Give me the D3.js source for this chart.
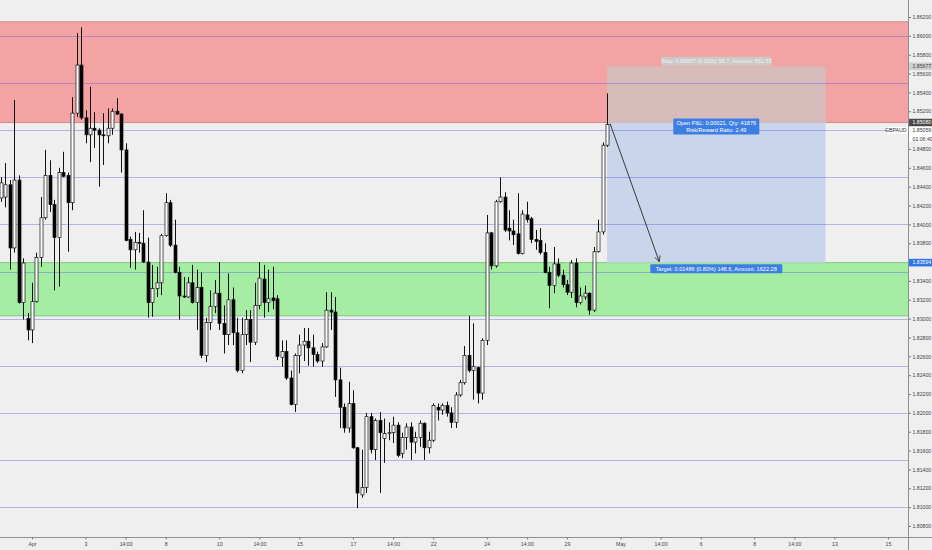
<!DOCTYPE html>
<html><head><meta charset="utf-8">
<script src="https://cdn.jsdelivr.net/npm/d3@7"></script>
<style>html,body{margin:0;padding:0;background:#efefef;} svg{display:block;font-family:"Liberation Sans",Arial,sans-serif;}</style>
</head><body><svg id="c" width="932" height="550"></svg>
<script>
// ---- data (GBPAUD, 4h bars) ----
const opens = [1.8428,1.8429,1.8442,1.8375,1.8447,1.8317,1.8300,1.8288,1.8318,1.8365,1.8407,1.8452,1.8421,1.8386,1.8455,1.8452,1.8423,1.8518,1.8569,1.8513,1.8495,1.8502,1.8500,1.8495,1.8494,1.8502,1.8520,1.8517,1.8479,1.8384,1.8373,1.8381,1.8380,1.8360,1.8317,1.8332,1.8338,1.8388,1.8423,1.8378,1.8349,1.8324,1.8323,1.8338,1.8317,1.8333,1.8261,1.8296,1.8313,1.8327,1.8295,1.8283,1.8320,1.8285,1.8245,1.8283,1.8299,1.8275,1.8314,1.8342,1.8317,1.8322,1.8321,1.8259,1.8265,1.8237,1.8209,1.8261,1.8272,1.8276,1.8269,1.8262,1.8255,1.8270,1.8309,1.8307,1.8235,1.8206,1.8184,1.8210,1.8163,1.8113,1.8121,1.8196,1.8161,1.8192,1.8173,1.8178,1.8179,1.8187,1.8157,1.8174,1.8185,1.8169,1.8174,1.8189,1.8163,1.8171,1.8206,1.8203,1.8208,1.8200,1.8190,1.8219,1.8232,1.8261,1.8245,1.8248,1.8221,1.8277,1.8391,1.8356,1.8424,1.8429,1.8396,1.8393,1.8390,1.8369,1.8410,1.8406,1.8384,1.8383,1.8370,1.8349,1.8335,1.8358,1.8346,1.8336,1.8328,1.8359,1.8317,1.8323,1.8327,1.8309,1.8371,1.8392,1.8484];
const highs = [1.8450,1.8465,1.8447,1.8532,1.8452,1.8364,1.8306,1.8338,1.8370,1.8429,1.8479,1.8468,1.8426,1.8460,1.8477,1.8455,1.8535,1.8603,1.8609,1.8521,1.8546,1.8519,1.8502,1.8518,1.8523,1.8523,1.8534,1.8518,1.8486,1.8387,1.8392,1.8391,1.8415,1.8386,1.8357,1.8355,1.8390,1.8433,1.8426,1.8405,1.8355,1.8344,1.8344,1.8357,1.8352,1.8349,1.8301,1.8330,1.8341,1.8360,1.8314,1.8348,1.8333,1.8301,1.8301,1.8309,1.8309,1.8338,1.8360,1.8357,1.8352,1.8355,1.8325,1.8277,1.8277,1.8245,1.8263,1.8283,1.8290,1.8290,1.8283,1.8265,1.8274,1.8328,1.8328,1.8323,1.8248,1.8210,1.8233,1.8224,1.8164,1.8161,1.8200,1.8200,1.8194,1.8201,1.8194,1.8190,1.8196,1.8190,1.8179,1.8189,1.8190,1.8180,1.8192,1.8190,1.8180,1.8210,1.8210,1.8210,1.8212,1.8206,1.8222,1.8235,1.8271,1.8303,1.8295,1.8249,1.8279,1.8410,1.8392,1.8426,1.8450,1.8434,1.8415,1.8405,1.8433,1.8415,1.8424,1.8408,1.8394,1.8396,1.8380,1.8355,1.8376,1.8364,1.8352,1.8341,1.8362,1.8364,1.8333,1.8335,1.8328,1.8376,1.8405,1.8487,1.8539];
const lows = [1.8424,1.8418,1.8352,1.8370,1.8316,1.8299,1.8277,1.8274,1.8317,1.8355,1.8405,1.8413,1.8330,1.8334,1.8450,1.8371,1.8415,1.8514,1.8511,1.8486,1.8466,1.8481,1.8440,1.8463,1.8486,1.8495,1.8516,1.8455,1.8382,1.8354,1.8352,1.8370,1.8359,1.8301,1.8302,1.8323,1.8325,1.8387,1.8376,1.8348,1.8299,1.8322,1.8322,1.8316,1.8288,1.8258,1.8254,1.8288,1.8306,1.8288,1.8263,1.8272,1.8272,1.8243,1.8242,1.8272,1.8254,1.8272,1.8310,1.8301,1.8307,1.8310,1.8256,1.8249,1.8235,1.8208,1.8201,1.8242,1.8255,1.8250,1.8249,1.8253,1.8249,1.8269,1.8288,1.8217,1.8184,1.8179,1.8179,1.8162,1.8099,1.8110,1.8115,1.8157,1.8150,1.8115,1.8147,1.8171,1.8168,1.8153,1.8152,1.8161,1.8150,1.8157,1.8164,1.8150,1.8157,1.8169,1.8192,1.8198,1.8196,1.8184,1.8184,1.8217,1.8230,1.8243,1.8214,1.8210,1.8214,1.8272,1.8352,1.8354,1.8423,1.8392,1.8383,1.8378,1.8368,1.8368,1.8402,1.8380,1.8373,1.8368,1.8348,1.8311,1.8327,1.8344,1.8333,1.8325,1.8322,1.8312,1.8315,1.8320,1.8304,1.8307,1.8370,1.8389,1.8482];
const closes = [1.8444,1.8442,1.8375,1.8447,1.8317,1.8359,1.8288,1.8318,1.8365,1.8407,1.8452,1.8421,1.8386,1.8455,1.8451,1.8423,1.8518,1.8569,1.8513,1.8495,1.8502,1.8500,1.8495,1.8494,1.8502,1.8520,1.8517,1.8479,1.8383,1.8373,1.8381,1.8380,1.8360,1.8317,1.8332,1.8338,1.8388,1.8423,1.8378,1.8349,1.8324,1.8323,1.8338,1.8317,1.8333,1.8261,1.8296,1.8313,1.8327,1.8295,1.8283,1.8320,1.8285,1.8245,1.8283,1.8299,1.8275,1.8314,1.8343,1.8317,1.8321,1.8319,1.8260,1.8265,1.8237,1.8209,1.8261,1.8272,1.8276,1.8269,1.8262,1.8255,1.8270,1.8309,1.8307,1.8235,1.8206,1.8184,1.8210,1.8163,1.8115,1.8121,1.8196,1.8161,1.8192,1.8179,1.8178,1.8179,1.8187,1.8155,1.8174,1.8185,1.8169,1.8174,1.8189,1.8163,1.8171,1.8208,1.8203,1.8208,1.8200,1.8190,1.8219,1.8232,1.8261,1.8245,1.8249,1.8221,1.8277,1.8391,1.8356,1.8424,1.8429,1.8394,1.8393,1.8389,1.8369,1.8411,1.8405,1.8384,1.8382,1.8370,1.8349,1.8335,1.8358,1.8346,1.8336,1.8328,1.8359,1.8317,1.8324,1.8327,1.8309,1.8371,1.8392,1.8484,1.85059];

const timeTickIndex  = [7,19,28,37,49,58,67,79,88,97,109,118,127,139,148,157,169,178,187,199];
const timeTickLabels = ["Apr","3","14:00","8","10","14:00","15","17","14:00","22","24","14:00","29","May","14:00","6","8","14:00","13","15"];
const priceTicks = [1.862,1.860,1.858,1.856,1.854,1.852,1.848,1.846,1.844,1.842,1.840,1.838,1.834,1.832,1.830,1.828,1.826,1.824,1.822,1.820,1.818,1.816,1.814,1.812,1.810,1.808];
const levelLines = [1.860,1.855,1.850,1.845,1.840,1.835,1.830,1.825,1.820,1.815,1.810];
const resistanceZone = [1.8615, 1.8508];
const supportZone = [1.83594, 1.8303];
const entryPrice = 1.8508, stopPrice = 1.85677, targetPrice = 1.83594;
const positionBars = [136, 185];
const lastPrice = 1.85059;
const symbolName = "GBPAUD";
const countdown = "01:06:40";
const stopText = "Stop: 0.00597 (0.32%) 59.7, Amount: 651.53";
const pnlText = ["Open P&L: 0.00021, Qty: 41876", "Risk/Reward Ratio: 2.49"];
const targetText = "Target: 0.01486 (0.80%) 148.6, Amount: 1622.28";

// ---- layout ----
const W = 932, H = 550, plotW = 908, plotH = 537;
const svg = d3.select("#c");
const x = d3.scaleLinear().domain([0, 200]).range([0.8, 892.4]);
const y = d3.scaleLinear().domain([1.862, 1.808]).range([17, 526]);
const bars = d3.range(opens.length).map(i => ({i, o: opens[i], h: highs[i], l: lows[i], c: closes[i]}));

svg.append("rect").attr("width", W).attr("height", H).attr("fill", "#efefef");
svg.append("defs").append("clipPath").attr("id", "clip")
  .append("rect").attr("width", plotW).attr("height", plotH);
svg.select("defs").append("marker").attr("id", "arr").attr("viewBox", "0 0 10 10")
  .attr("refX", 9).attr("refY", 5).attr("markerWidth", 7).attr("markerHeight", 7).attr("orient", "auto")
  .append("path").attr("d", "M1,1 L9,5 L1,9").attr("fill", "none").attr("stroke", "#3a3a3a").attr("stroke-width", 1.2);

const plot = svg.append("g").attr("clip-path", "url(#clip)");

// zones
plot.append("rect").attr("x", 0).attr("width", plotW)
  .attr("y", y(resistanceZone[0])).attr("height", y(resistanceZone[1]) - y(resistanceZone[0]))
  .attr("fill", "#f3a3a3");
plot.append("line").attr("x1", 0).attr("x2", plotW).attr("y1", y(resistanceZone[0])).attr("y2", y(resistanceZone[0]))
  .attr("stroke", "#c99a9a").attr("stroke-width", 1);
plot.append("line").attr("x1", 0).attr("x2", plotW).attr("y1", y(resistanceZone[1])).attr("y2", y(resistanceZone[1]))
  .attr("stroke", "#d88888").attr("stroke-width", 1);
plot.append("rect").attr("x", 0).attr("width", plotW)
  .attr("y", y(supportZone[0])).attr("height", y(supportZone[1]) - y(supportZone[0]))
  .attr("fill", "#a5eda3");
[supportZone[0], supportZone[1]].forEach(p => plot.append("line").attr("x1", 0).attr("x2", plotW)
  .attr("y1", y(p)).attr("y2", y(p)).attr("stroke", "#7fc97c").attr("stroke-width", 1));

// position tool boxes
const bx0 = x(positionBars[0]), bx1 = x(positionBars[1]);
plot.append("rect").attr("x", bx0).attr("width", bx1 - bx0)
  .attr("y", y(stopPrice)).attr("height", y(entryPrice) - y(stopPrice)).attr("fill", "#d8bcbc");
plot.append("rect").attr("x", bx0).attr("width", bx1 - bx0)
  .attr("y", y(entryPrice)).attr("height", y(targetPrice) - y(entryPrice)).attr("fill", "#c8d5ea");

// level lines
plot.selectAll("line.lvl").data(levelLines).enter().append("line").attr("class", "lvl")
  .attr("x1", 0).attr("x2", plotW).attr("y1", d => Math.round(y(d)) + 0.5).attr("y2", d => Math.round(y(d)) + 0.5)
  .attr("stroke", "rgba(90,95,230,0.42)").attr("stroke-width", 1);

// candles
const bw = 3;
const cg = plot.append("g");
cg.selectAll("line.wick").data(bars).enter().append("line")
  .attr("x1", d => Math.round(x(d.i)) + 0.5).attr("x2", d => Math.round(x(d.i)) + 0.5)
  .attr("y1", d => y(d.h)).attr("y2", d => y(d.l)).attr("stroke", "#111").attr("stroke-width", 1);
cg.selectAll("rect.body").data(bars).enter().append("rect")
  .attr("x", d => Math.round(x(d.i)) + 0.5 - bw / 2)
  .attr("width", bw)
  .attr("y", d => y(Math.max(d.o, d.c)))
  .attr("height", d => Math.max(0.8, Math.abs(y(d.o) - y(d.c))))
  .attr("fill", d => d.c >= d.o ? "#ffffff" : "#000000")
  .attr("stroke", "#111").attr("stroke-width", 0.7);

// arrow
plot.append("line").attr("x1", bx0 + 3).attr("y1", y(entryPrice) + 1)
  .attr("x2", x(positionBars[0] + 11.7)).attr("y2", y(targetPrice) - 1)
  .attr("stroke", "#3a3a3a").attr("stroke-width", 1).attr("marker-end", "url(#arr)");

// labels of position tool
const cx = (bx0 + bx1) / 2;
function label(lines, yc, bg, fg, w) {
  const lh = 7, h = lines.length * lh + 2;
  const g = svg.append("g");
  g.append("rect").attr("x", cx - w / 2).attr("y", yc - h / 2).attr("width", w).attr("height", h)
    .attr("rx", 1).attr("fill", bg);
  lines.forEach((t, k) => g.append("text").attr("x", cx).attr("y", yc - h / 2 + 1 + lh * (k + 0.5))
    .attr("dy", "0.35em").attr("text-anchor", "middle").attr("font-size", 5.6).attr("fill", fg).text(t));
}
label([stopText], y(stopPrice) - 5, "#cbc8c5", "#f4f4f4", 110);
label(pnlText, y(entryPrice) + 4, "#3d7ee3", "#ffffff", 86);
label([targetText], y(targetPrice) + 6, "#3d7ee3", "#ffffff", 132);

// price axis
svg.append("line").attr("x1", plotW + 0.5).attr("x2", plotW + 0.5).attr("y1", 0).attr("y2", H)
  .attr("stroke", "#8f8f8f").attr("stroke-width", 1);
const yAxis = d3.axisRight(y).tickValues(priceTicks).tickFormat(d3.format(".5f")).tickSize(2).tickPadding(1.5);
const ya = svg.append("g").attr("transform", `translate(${plotW + 1},0)`).call(yAxis);
ya.select(".domain").remove();
ya.selectAll("line").attr("stroke", "#777");
ya.selectAll("text").attr("font-size", 5.2).attr("fill", "#444");

function tag(price, yy, bg, fg, txt) {
  const g = svg.append("g");
  g.append("rect").attr("x", plotW + 1).attr("y", yy - 3.8).attr("width", W - plotW - 1).attr("height", 7.6).attr("fill", bg);
  g.append("text").attr("x", plotW + 4.5).attr("y", yy).attr("dy", "0.35em").attr("font-size", 5.2).attr("fill", fg).text(txt);
}
tag(stopPrice, y(stopPrice), "#cfcfcf", "#444", d3.format(".5f")(stopPrice));
tag(entryPrice, y(entryPrice), "#4a4a4a", "#ffffff", d3.format(".5f")(entryPrice));
tag(targetPrice, y(targetPrice), "#2f74e8", "#ffffff", d3.format(".5f")(targetPrice));
// last price label (pushed below the entry tag)
const ly = y(lastPrice) + 6;
svg.append("rect").attr("x", plotW + 1).attr("y", ly - 4).attr("width", W - plotW - 1).attr("height", 15).attr("fill", "#ffffff");
svg.append("text").attr("x", plotW + 4.5).attr("y", ly).attr("dy", "0.35em").attr("font-size", 5.2).attr("fill", "#333").text(d3.format(".5f")(lastPrice));
svg.append("text").attr("x", plotW + 4.5).attr("y", ly + 8.5).attr("dy", "0.35em").attr("font-size", 5.2).attr("fill", "#333").text(countdown);
svg.append("rect").attr("x", plotW - 21).attr("y", ly - 3.5).attr("width", 21).attr("height", 7).attr("fill", "#ffffff");
svg.append("text").attr("x", plotW - 1.5).attr("y", ly).attr("dy", "0.35em").attr("text-anchor", "end")
  .attr("font-size", 5.2).attr("fill", "#333").text(symbolName);

// time axis
svg.append("rect").attr("x", 0).attr("y", plotH).attr("width", plotW).attr("height", H - plotH).attr("fill", "#efefef");
svg.append("line").attr("x1", 0).attr("x2", W).attr("y1", plotH + 0.5).attr("y2", plotH + 0.5)
  .attr("stroke", "#8f8f8f").attr("stroke-width", 1);
const xAxis = d3.axisBottom(x).tickValues(timeTickIndex).tickFormat((d, k) => timeTickLabels[k]).tickSize(2).tickPadding(3);
const xa = svg.append("g").attr("transform", `translate(0,${plotH + 0.5})`).call(xAxis);
xa.select(".domain").remove();
xa.selectAll("line").attr("stroke", "#777");
xa.selectAll("text").attr("font-size", 5.2).attr("fill", "#444");
</script></body></html>
